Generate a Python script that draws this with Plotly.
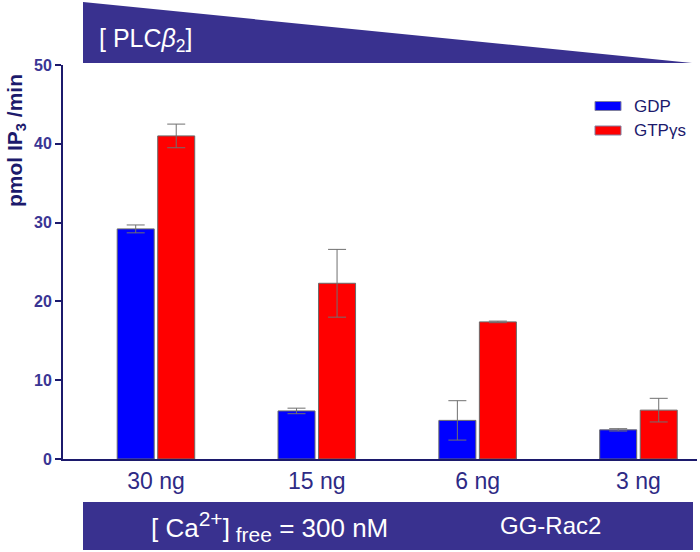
import plotly.graph_objects as go

# ---- data ----
categories = ["30 ng", "15 ng", "6 ng", "3 ng"]
gdp_values = [29.2, 6.1, 4.9, 3.7]
gdp_errors = [0.5, 0.35, 2.5, 0.15]
gtp_values = [41.0, 22.3, 17.4, 6.2]
gtp_errors = [1.5, 4.3, 0.1, 1.5]
series_names = ["GDP", "GTPγs"]
y_ticks = [0, 10, 20, 30, 40, 50]

W, H = 700, 552
L, R, T, B = 63, 3, 65, 93
PW, PH = W - L - R, H - T - B

def px(x):
    return (x - L) / PW

def py(y):
    return (H - B - y) / PH

NAVY = "#39318f"
DARK = "#1c1a6c"
TICK = "#3a3594"
FONT = "Liberation Sans, Arial, sans-serif"

bw = 0.23
gap = 0.011

fig = go.Figure()
fig.add_trace(go.Bar(
    x=categories, y=gdp_values, name=series_names[0],
    width=bw, offset=-bw - gap,
    marker=dict(color="#0000ff", line=dict(color="#6a6a6a", width=1)),
    error_y=dict(type="data", array=gdp_errors, color="#707070", thickness=1, width=9),
    showlegend=False,
))
fig.add_trace(go.Bar(
    x=categories, y=gtp_values, name=series_names[1],
    width=bw, offset=gap,
    marker=dict(color="#ff0000", line=dict(color="#6a6a6a", width=1)),
    error_y=dict(type="data", array=gtp_errors, color="#707070", thickness=1, width=9),
    showlegend=False,
))

shapes = []
annotations = []

# top triangle
x0, x1 = px(83), px(692)
ytop, ybot = py(2), py(63)
shapes.append(dict(type="path", xref="paper", yref="paper",
                   path=f"M {x0},{ytop} L {x0},{ybot} L {x1},{ybot} Z",
                   fillcolor=NAVY, line=dict(width=0), layer="above"))
annotations.append(dict(xref="paper", yref="paper", x=px(97), y=py(40),
                        xanchor="left", yanchor="middle", showarrow=False,
                        text="[ PLC<i>β</i><sub>2</sub>]",
                        font=dict(family=FONT, size=25, color="white")))

# bottom band
shapes.append(dict(type="rect", xref="paper", yref="paper",
                   x0=px(83), x1=px(693), y0=py(502), y1=py(550),
                   fillcolor=NAVY, line=dict(width=0)))
annotations.append(dict(xref="paper", yref="paper", x=px(269), y=py(526),
                        xanchor="center", yanchor="middle", showarrow=False,
                        text="[ Ca<sup><span style='font-size:21px'>2+</span></sup>]"
                             "<sub><span style='font-size:21px'> free</span></sub> = 300 nM",
                        font=dict(family=FONT, size=26, color="white")))
annotations.append(dict(xref="paper", yref="paper", x=px(550), y=py(525),
                        xanchor="center", yanchor="middle", showarrow=False,
                        text="GG-Rac2",
                        font=dict(family=FONT, size=24, color="white")))

# legend
for i, (name, col) in enumerate(zip(series_names, ["#0000ff", "#ff0000"])):
    yc = 106 + i * 24.5
    shapes.append(dict(type="rect", xref="paper", yref="paper",
                       x0=px(595), x1=px(621), y0=py(yc - 4.5), y1=py(yc + 4.5),
                       fillcolor=col, line=dict(color="#8080a0", width=1)))
    annotations.append(dict(xref="paper", yref="paper", x=px(632), y=py(yc),
                            xanchor="left", yanchor="middle", showarrow=False,
                            text=name,
                            font=dict(family=FONT, size=17, color=DARK)))

# y title
annotations.append(dict(xref="paper", yref="paper", x=px(16), y=py(141),
                        xanchor="center", yanchor="middle", showarrow=False,
                        textangle=-90,
                        text="<b>pmol IP<sub>3</sub> /min</b>",
                        font=dict(family=FONT, size=21, color=DARK)))

fig.update_layout(
    width=W, height=H,
    margin=dict(l=L, r=R, t=T, b=B, pad=0),
    paper_bgcolor="white", plot_bgcolor="white",
    barmode="overlay",
    shapes=shapes, annotations=annotations,
    xaxis=dict(
        type="category", range=[-0.578, 3.364],
        showline=True, linecolor=DARK, linewidth=2,
        showgrid=False, zeroline=False, ticks="",
        tickfont=dict(family=FONT, size=23, color="#2e2a85"),
        ticklabelstandoff=0,
    ),
    yaxis=dict(
        range=[0, 50], tickvals=y_ticks,
        showline=True, linecolor=DARK, linewidth=2,
        showgrid=False, zeroline=False,
        ticks="outside", ticklen=6, tickwidth=2, tickcolor=DARK,
        tickfont=dict(family=FONT, size=16, color=TICK, weight="bold"),
    ),
)

fig.write_html("out.html", config={"displayModeBar": False},
               post_script="document.body.style.margin='0';")
